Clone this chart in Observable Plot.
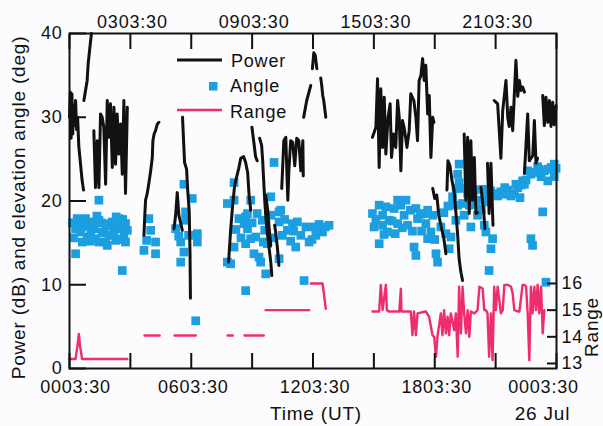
<!DOCTYPE html>
<html><head><meta charset="utf-8">
<script src="https://cdn.jsdelivr.net/npm/d3@7"></script>
<script src="https://cdn.jsdelivr.net/npm/@observablehq/plot@0.6"></script>
<style>
body{margin:0;background:#fcfbfd;}
#chart{position:relative;width:603px;height:426px;}
svg text{letter-spacing:0.8px;}
</style></head><body><div id="chart"></div>
<script>
// ---- data (hours after 0003:30 UT, 25 Jul) ----
const minorTicks = [0,3,6,9,12,15,18,21,24];
const bottomTicks = [0,6,12,18,24];
const bottomLabels = ["0003:30","0603:30","1203:30","1803:30","0003:30"];
const topTicks = [3,9,15,21];
const topLabels = ["0303:30","0903:30","1503:30","2103:30"];
const yTicks = [0,10,20,30,40];
const rangeTicks = [13,14,15,16];

// Power (dB): segments of [hour, dB]
const powerSegments = [
 [[0,30],[0.04,33],[0.08,27.5],[0.12,32.8],[0.16,28],[0.2,31.5],[0.25,29],[0.3,32],[0.35,28.5],[0.4,30],[0.46,26.5],[0.54,24.5],[0.62,22.5],[0.69,21.3]],
 [[0.71,32],[0.79,33.2],[0.87,34.4],[0.92,36.4],[0.99,38],[1.08,40]],
 [[1.2,28.4],[1.28,21.6],[1.37,27.2],[1.45,21.6],[1.53,30.4],[1.61,30],[1.69,28.8],[1.78,22],[1.86,32],[1.94,27.6],[2.02,31.6],[2.11,24],[2.19,31.2],[2.27,24.4],[2.35,30.4],[2.43,25.6],[2.52,29.2],[2.6,23.2],[2.68,32],[2.76,20.9],[2.85,31.2]],
 [[3.67,15.9],[3.71,18.3],[3.75,20.1],[3.83,20.9],[3.91,22.1],[4.0,23.6],[4.08,25.2],[4.11,27.2],[4.17,28],[4.24,28.4],[4.33,29.2],[4.41,29.4]],
 [[5.15,16.7],[5.23,18.3],[5.31,21],[5.39,18.3],[5.56,16.5]],
 [[5.57,30],[5.62,27.3],[5.67,24.6],[5.77,23.8],[5.82,21.5],[5.9,18.7],[5.94,13.6],[5.96,8.4]],
 [[7.84,12.7],[7.94,16.5],[8.04,19.5],[8.14,21.9],[8.34,23.9],[8.44,25.1],[8.58,25.3],[8.68,24.6],[8.78,23.4],[8.85,20.7],[8.93,18.9]],
 [[8.99,28.8],[9.08,27.1],[9.17,25.3],[9.25,24.8]],
 [[9.37,27.5],[9.47,26.6],[9.52,24.8],[9.57,22.4],[9.62,20.1],[9.67,18.3],[9.72,16.7],[9.82,14.7],[9.92,12.7],[9.97,11.1]],
 [[9.67,20.7],[9.77,18.9],[9.84,16.7],[9.92,14.7]],
 [[10.11,17.1],[10.16,16.3],[10.25,14.3],[10.32,12.3]],
 [[10.46,21.5],[10.56,27.2],[10.66,27.6],[10.71,23.6],[10.76,20.1],[10.81,23.6],[10.9,27.2],[11.0,27.0],[11.1,24.2],[11.2,27.5],[11.3,27.2],[11.4,23.6],[11.5,27.2],[11.52,23.0]],
 [[11.54,30],[11.69,32],[11.89,33.8]],
 [[11.97,35.8],[12.04,37.7],[12.11,37.4],[12.19,35.8]],
 [[12.38,34.7],[12.43,33.8],[12.48,32.6],[12.53,32],[12.63,30]],
 [[14.93,27.6],[15.1,28.8],[15.18,34.6],[15.26,24],[15.34,33.4],[15.43,26.4],[15.51,32.4],[15.59,25.6],[15.7,30],[15.8,31.6],[15.87,25.2],[15.97,28],[16.08,26.4],[16.17,32],[16.25,30],[16.33,23.6],[16.41,29.6],[16.49,28.8],[16.63,26.4],[16.74,28.4],[16.82,32.8],[16.97,32],[17.07,30],[17.15,27.2],[17.23,34.4],[17.32,35],[17.4,37],[17.48,34.4],[17.56,36.2],[17.65,30.4],[17.73,32.6],[17.81,25.2],[17.9,30],[17.96,29.4]],
 [[17.9,21.5],[18.0,20.3],[18.1,20.7],[18.2,18.3],[18.3,17.1],[18.45,15.5],[18.55,13.7]],
 [[18.6,21.3],[18.65,24.8],[18.75,24.2],[18.85,22.4],[18.95,21.3],[19.04,18.7],[19.13,15.9],[19.2,13.1],[19.29,11.5],[19.37,10.5]],
 [[19.45,28],[19.53,20.1],[19.62,27.6],[19.7,18.5],[19.78,27.2],[19.86,20.1],[19.95,25.2],[20.03,18.5],[20.11,18.6]],
 [[20.28,21.6],[20.42,18.5],[20.47,16.7]],
 [[20.6,24.5],[20.68,18.5],[20.77,24.5],[20.85,18.5],[20.87,17.1]],
 [[20.93,32],[21.1,31.6],[21.26,25.1],[21.35,30.8],[21.51,34.4],[21.6,29.9],[21.67,28.9],[21.76,31.2],[21.84,28.4],[22.0,36.8],[22.09,32.5],[22.17,34.4],[22.25,33.2],[22.33,33.6],[22.42,33]],
 [[22.42,23.3],[22.58,30.4],[22.66,24.8],[22.83,25.4],[22.91,29.6],[22.99,24.5],[23.07,25.1]],
 [[23.32,32.6],[23.4,29],[23.48,32.4],[23.57,29.4],[23.65,32],[23.73,28.9],[23.81,31.8],[23.89,29.1],[23.98,31.4]]
];

// Elevation angle (deg): [hour, deg]
const anglePoints = [
 [0.15,17.4],[0.3,16.7],[0.3,13.7],[0.46,17.7],[0.54,16.3],[0.63,15.1],[0.79,17.9],[0.87,15.7],[0.95,17.1],[1.12,17.5],[1.2,16.7],[1.28,15.5],[1.45,17.7],[1.45,15.1],[1.45,20.1],[1.61,16.3],[1.78,17.3],[1.78,15.1],[1.86,14.7],[1.94,15.9],[2.11,17.5],[2.27,15.3],[2.35,16.7],[2.43,17.9],[2.52,16.9],[2.6,11.7],[2.68,15.9],[2.76,17.3],[2.76,15.1],
 [0.2,15.6],[0.38,17.9],[0.7,17.6],[1.03,15.2],[1.35,18.2],[1.55,17.4],[1.7,16.2],[2.0,17.0],[2.2,16.2],[2.45,15.4],[2.62,17.8],[2.85,16.5],[1.05,16.4],[0.62,16.9],[2.3,18.1],
 [3.67,14.1],[3.8,15.3],[3.91,17.9],[4.0,16.5],[4.24,15.1],[4.24,13.7],
 [5.23,16.7],[5.38,15.8],[5.48,15.1],[5.48,12.7],[5.64,13.9],[5.64,22],[5.72,18.7],[5.72,17.7],[5.87,15.9],[6.05,20.3],[6.22,5.7],[6.3,15.1],[6.3,16.1],
 [7.78,19.7],[7.78,12.7],[7.94,12.5],[8.11,22.2],[8.11,20.1],[8.11,14.5],[8.6,17.3],[8.68,18.1],[8.68,14.9],[8.68,9.3],[8.77,16.7],[8.77,18.5],[8.93,20.1],[8.93,15.5],[9.09,13.7],[9.18,15.7],[9.34,13.3],[9.42,12.7],[9.62,16.5],[9.67,11.3],[9.92,20.5],[9.92,18.3],[10.08,24.6],[10.33,18.7],[10.33,17.5],[10.33,13.1],[10.41,18.9],[10.49,15.9],[10.74,16.5],[10.99,17.3],[11.15,14.5],[11.23,17.5],[11.4,15.9],[11.56,10.5],[11.81,15.1],[12.05,16.9],[12.14,15.9],[12.47,16.3],[12.79,17.1],
 [8.2,16.6],[8.35,17.9],[9.0,17.4],[9.25,18.5],[9.5,17.7],[9.75,14.9],[10.0,15.6],[10.6,17.8],[10.9,15.2],[11.05,16.4],[11.65,16.9],[11.95,15.4],[12.3,17.2],[12.6,16.9],[8.45,15.6],[9.55,15.1],
 [14.93,18.5],[15.01,16.9],[15.26,19.5],[15.26,14.9],[15.43,18.3],[15.43,17.1],[15.59,19.3],[15.67,16.3],[15.75,17.7],[16.0,19.1],[16.17,20.1],[16.17,17.3],[16.33,19.5],[16.49,18.3],[16.58,20.1],[16.66,17.1],[16.98,14.5],[17.07,19.1],[17.07,13.5],[17.15,17.9],[17.48,18.5],[17.56,17.3],[17.65,18.9],[17.65,15.5],[17.81,16.3],[18.06,13.7],[18.14,12.7],[18.3,16.9],[18.71,14.3],[18.8,15.7],[18.88,19.5],[18.88,20.5],[19.04,17.7],[19.13,19.5],[19.13,23.2],[19.2,24.4],[19.2,22.2],[19.37,19.7],[19.45,18.3],
 [15.1,17.8],[15.5,16.0],[15.9,17.6],[16.05,16.1],[16.4,16.8],[16.8,18.9],[16.9,16.4],[17.3,18.4],[17.35,16.4],[17.9,18.3],[18.0,15.4],[18.45,18.6],[18.55,16.1],[18.65,19.4],[19.3,21.5],[19.05,21.5],
 [19.62,20.9],[19.78,16.9],[19.86,20.3],[19.95,21.3],[20.11,18.3],[20.2,20.1],[20.44,17.1],[20.52,16.3],[20.52,20.5],[20.68,11.7],[20.77,14.3],[20.85,15.5],[20.93,20.9],[21.26,21.1],[21.6,21.3],[21.92,20.9],[22.09,21.6],[22.25,21.9],[22.33,22.4],[22.42,22],[22.58,23.6],[22.74,23.2],[22.74,15.5],[22.82,14.7],[23.07,24.1],[23.24,22.9],[23.32,18.7],[23.4,23.6],[23.48,10.3],[23.57,22.4],[23.73,24],[23.89,24.4],[23.89,22.9],
 [19.7,19.5],[20.0,19.6],[20.3,19.0],[20.6,19.9],[20.75,21.2],[21.1,20.6],[21.4,20.8],[21.75,20.6],[22.0,22.0],[22.5,22.5],[22.9,23.4],[23.15,23.8],[23.6,23.8],[23.98,23.9],[22.2,20.4],[21.45,21.6],[20.35,21.4]
];

// Range: segments of [hour, range]
const rangeSegments = [
 [[0,13.17],[0.3,13.17],[0.39,13.65],[0.46,14.11],[0.52,13.65],[0.62,13.17],[2.85,13.17]],
 [[3.7,14.05],[4.44,14.05]],
 [[5.18,14.05],[6.22,14.05]],
 [[7.79,14.05],[8.04,14.05]],
 [[8.63,14.05],[9.57,14.05]],
 [[9.67,15.0],[11.81,15.0]],
 [[11.89,16],[12.47,16],[12.55,15.55],[12.63,15.05]],
 [[14.93,14.95],[15.26,14.95],[15.34,15.95],[15.43,15.0],[15.59,15.95],[15.64,15.0],[15.75,14.95],[16.25,14.95],[16.33,15.8],[16.36,14.95],[16.66,14.95],[16.82,14.95],[16.9,14.06],[16.98,14.95],[17.07,14.06],[17.15,14.88],[17.56,14.95],[17.72,14.75],[17.89,14.06],[17.97,14.0],[18.06,13.25],[18.14,14.06],[18.3,14.88],[18.38,14.06],[18.46,15.0],[18.55,14.13],[18.63,14.75],[18.71,14.06],[18.79,14.88],[18.96,14.25],[19.04,14.88],[19.13,13.25],[19.2,15.88],[19.29,14.13],[19.37,15.88],[19.45,14.88],[19.54,14.13],[19.62,15.0],[19.7,14.0],[19.78,14.95],[19.95,14.88],[20.11,15.0],[20.2,15.88],[20.36,15.81],[20.44,15.0],[20.52,15.0],[20.6,14.88],[20.68,13.25],[20.77,14.88],[20.85,13.12],[20.93,15.88],[21.01,15.0],[21.1,15.88],[21.18,15.38],[21.26,14.88],[21.35,15.0],[21.43,15.95],[21.6,15.95],[21.76,15.88],[21.84,15.63],[21.92,15.0],[22.09,14.95],[22.17,14.95],[22.33,15.95],[22.42,15.95],[22.5,15.88],[22.58,14.88],[22.66,13.12],[22.74,15.88],[22.82,14.88],[22.91,15.88],[22.99,15.0],[23.07,15.95],[23.15,14.88],[23.24,15.88],[23.32,14.13],[23.4,15.0]]
];

const BLUE = "#1b9fe0", PINK = "#ee2d6f", INK = "#111";
const FONT = "'Liberation Sans', Arial, sans-serif";
// right-hand Range axis occupies the lower part of the left scale
const rangeToY = d3.scaleLinear().domain([13,16]).range([0.6,10.15]);

const powerData = powerSegments.flatMap((s,i)=>s.map(([h,v])=>({h,v,seg:i})));
const angleData = anglePoints.map(([h,v])=>({h,v}));
const rangeData = rangeSegments.flatMap((s,i)=>s.map(([h,r])=>({h,r,y:rangeToY(r),seg:i})));
const lab = (ticks, labels) => d => labels[ticks.indexOf(d)];

const chart = Plot.plot({
  width:603, height:426,
  marginLeft:69, marginRight:47, marginTop:33, marginBottom:58,
  x:{domain:[0,24], label:null},
  y:{domain:[0,40], label:null},
  style:{background:"transparent", fontSize:"18px", fontFamily:FONT, color:INK},
  marks:[
    Plot.line(rangeData,{x:"h",y:"y",z:"seg",stroke:PINK,strokeWidth:2.4,strokeLinejoin:"round"}),
    Plot.dot(angleData,{x:"h",y:"v",symbol:"square",r:4.9,fill:BLUE,stroke:null}),
    Plot.line(powerData,{x:"h",y:"v",z:"seg",stroke:INK,strokeWidth:3,strokeLinejoin:"round",strokeLinecap:"round"}),
    Plot.frame({stroke:INK,strokeWidth:2}),
    Plot.axisX(minorTicks,{anchor:"bottom",tickSize:-15,strokeWidth:2,tickFormat:()=>"",label:null}),
    Plot.axisX(minorTicks,{anchor:"top",tickSize:-15,strokeWidth:2,tickFormat:()=>"",label:null}),
    Plot.axisX(bottomTicks.slice(1,4),{anchor:"bottom",tickSize:0,tickPadding:12,dx:2,tickFormat:lab(bottomTicks,bottomLabels),label:null}),
    Plot.axisX([bottomTicks[0]],{anchor:"bottom",tickSize:0,tickPadding:12,dx:6,tickFormat:lab(bottomTicks,bottomLabels),label:null}),
    Plot.axisX([bottomTicks[4]],{anchor:"bottom",tickSize:0,tickPadding:12,dx:-13,tickFormat:lab(bottomTicks,bottomLabels),label:null}),
    Plot.axisX(topTicks,{anchor:"top",tickSize:0,tickPadding:6,dx:2,tickFormat:lab(topTicks,topLabels),label:null}),
    Plot.axisY(yTicks,{anchor:"left",tickSize:-17,tickPadding:24,strokeWidth:2,label:null}),
    Plot.axisY(rangeTicks.map(rangeToY),{anchor:"right",tickSize:-10,tickPadding:15,strokeWidth:2,tickFormat:v=>String(Math.round(rangeToY.invert(v))),label:null})
  ]
});
document.getElementById("chart").appendChild(chart);

// titles and legend
const svg = d3.select(chart);
const t = (x,y,s,o={}) => svg.append("text").attr("x",x).attr("y",y).attr("font-family",FONT)
  .attr("font-size",o.size||18).attr("fill",INK).attr("text-anchor",o.anchor||"start")
  .attr("transform",o.rot?`rotate(-90,${x},${y})`:null).text(s);
t(25,207.5,"Power (dB) and elevation angle (deg)",{size:19,anchor:"middle",rot:true});
t(598,327,"Range",{size:19,anchor:"middle",rot:true});
t(316,420,"Time (UT)",{size:19,anchor:"middle"});
t(542.5,420,"26 Jul",{size:19,anchor:"middle"});
const lg = svg.append("g");
lg.append("line").attr("x1",177).attr("x2",222).attr("y1",60).attr("y2",60).attr("stroke",INK).attr("stroke-width",3);
lg.append("rect").attr("x",209).attr("y",82).attr("width",8.5).attr("height",8.5).attr("fill",BLUE);
lg.append("line").attr("x1",177).attr("x2",222).attr("y1",110).attr("y2",110).attr("stroke",PINK).attr("stroke-width",2.4);
t(231,67,"Power"); t(230,92,"Angle"); t(230,118,"Range");
</script></body></html>
